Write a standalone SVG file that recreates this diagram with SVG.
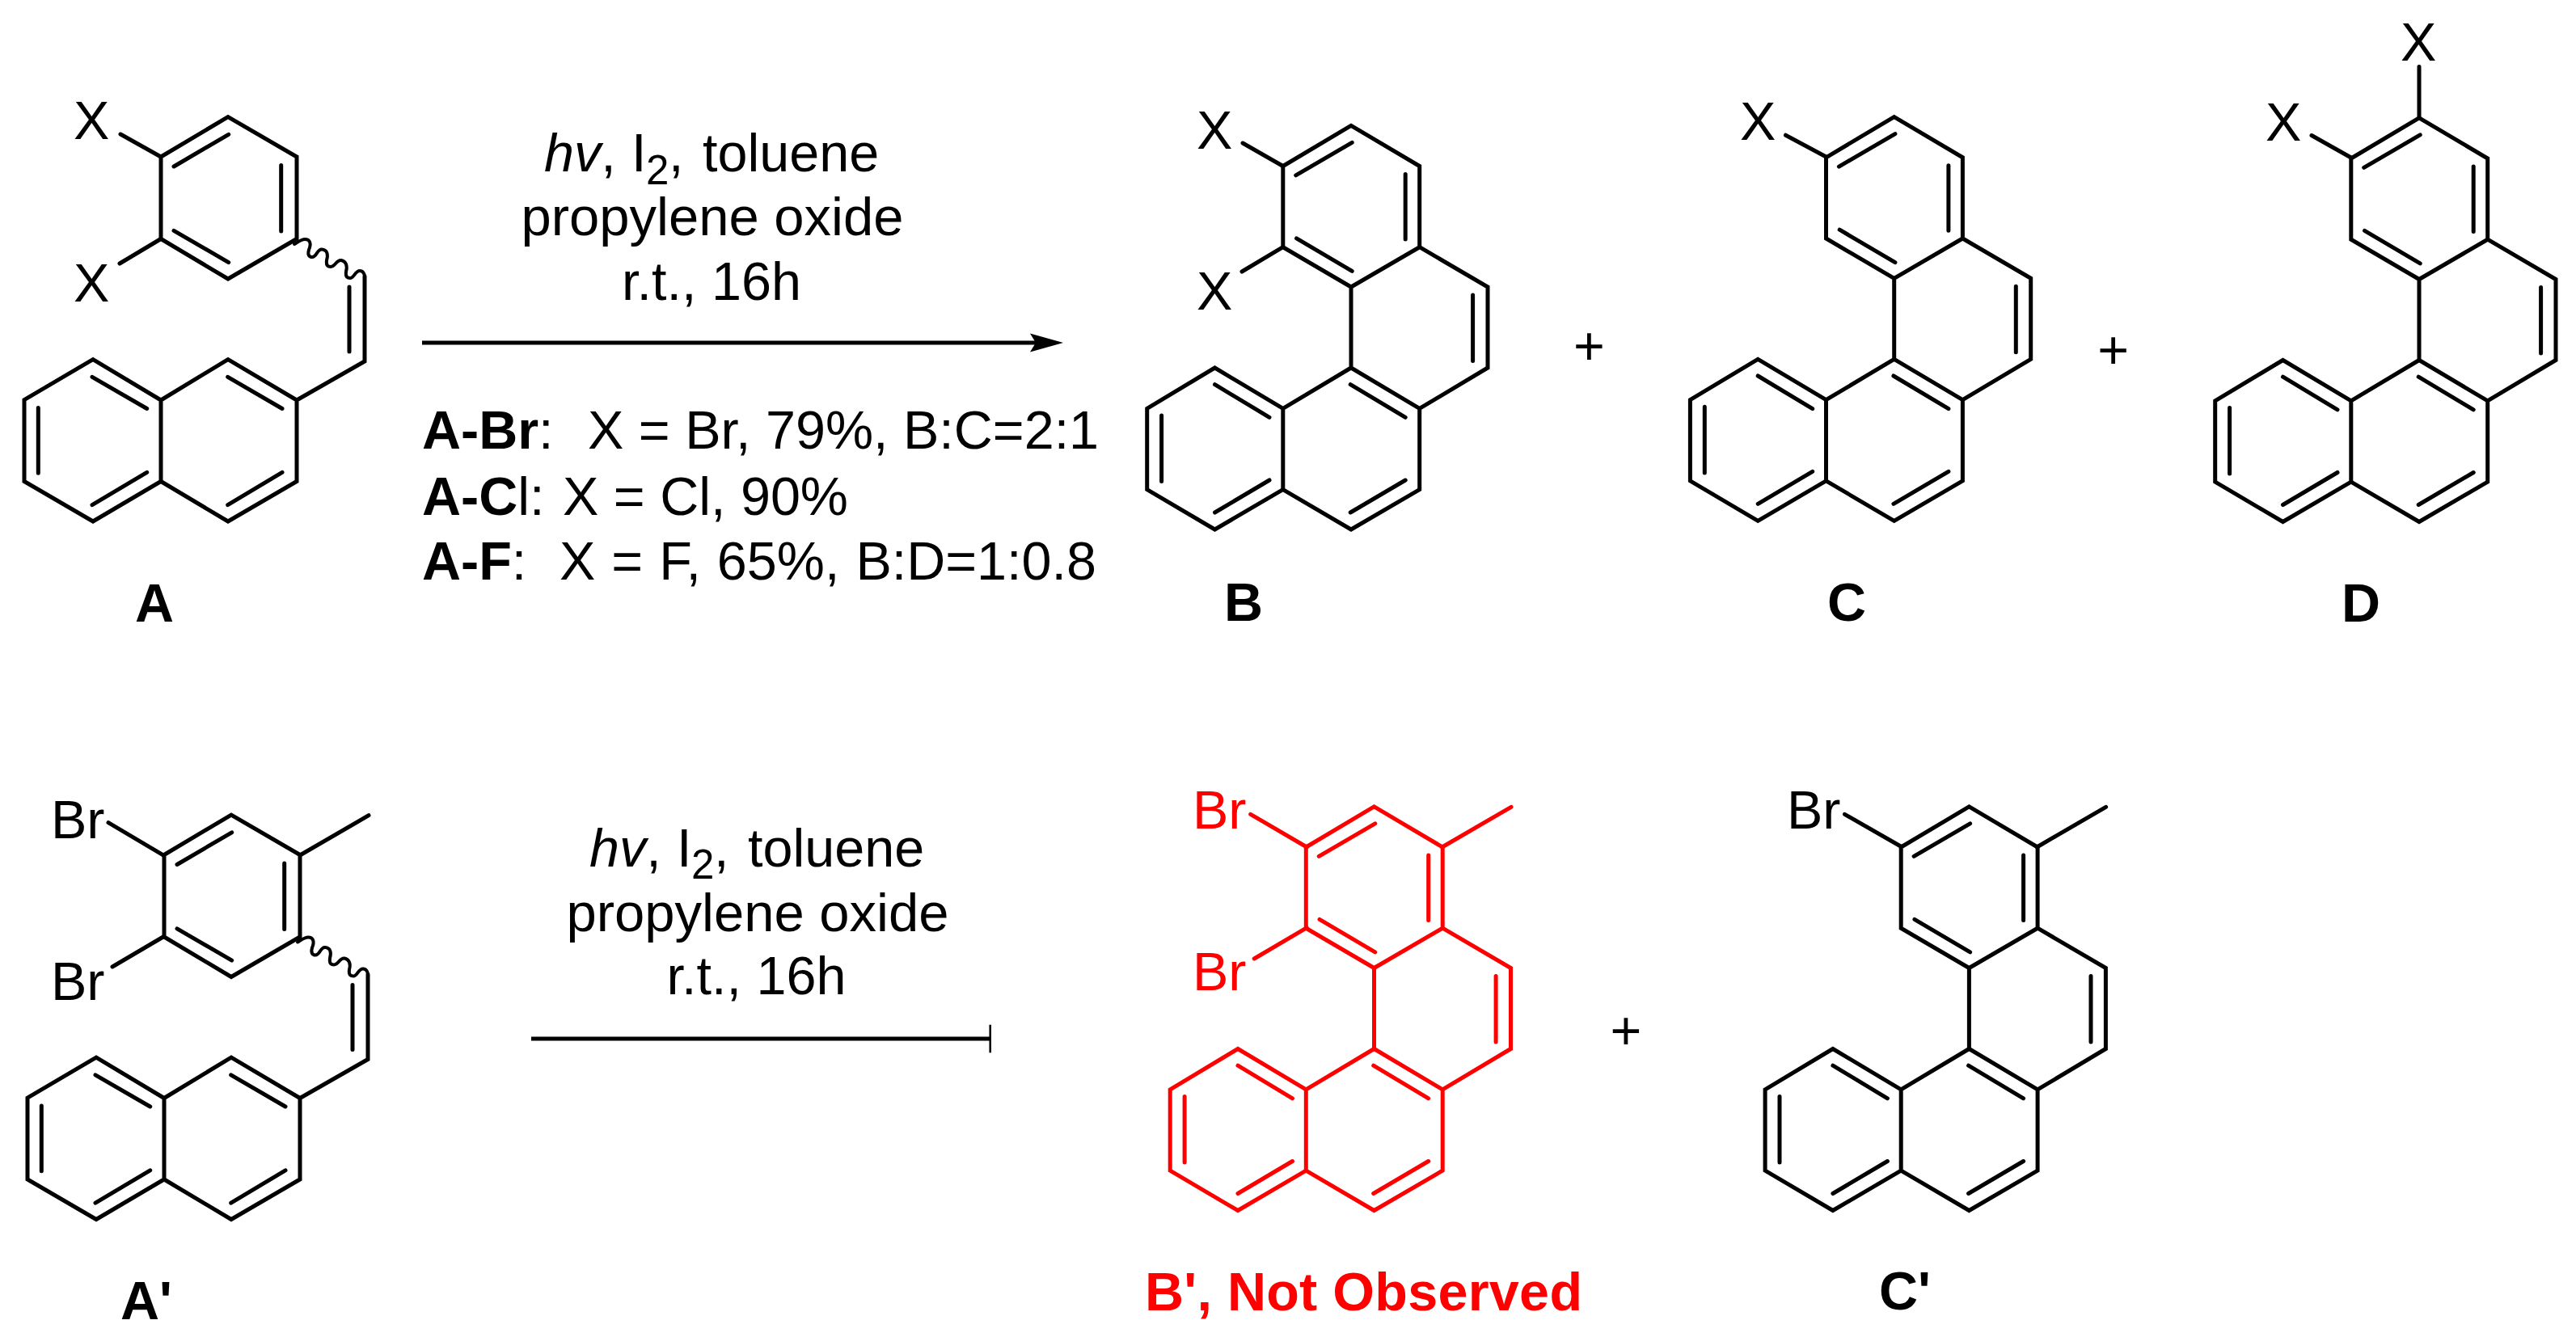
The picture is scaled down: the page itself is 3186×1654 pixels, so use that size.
<svg xmlns="http://www.w3.org/2000/svg" xmlns:xlink="http://www.w3.org/1999/xlink" width="3186" height="1654" viewBox="0 0 3186 1654">
<style>
text{font-family:"Liberation Sans",Arial,sans-serif;font-size:66.5px;fill:#000}
.b{font-weight:700}
.i{font-style:italic}
.sub{font-size:51px}
.wide{font-size:67px}
.red text{fill:#f00}
.bond{fill:none;stroke:#000;stroke-width:5;stroke-linecap:round;stroke-linejoin:miter;stroke-miterlimit:6}
.red .bond{stroke:#f00}
.wave{fill:none;stroke:#000;stroke-width:4;stroke-linecap:round}
.arrow{fill:none;stroke:#000;stroke-width:5}
.stop{fill:none;stroke:#000;stroke-width:2.5}
</style>
<defs>
<marker id="head" markerUnits="userSpaceOnUse" markerWidth="42" markerHeight="24" viewBox="0 0 42 24" refX="7" refY="12" orient="auto">
<polygon points="0,0.5 41,12 0,23.5 7,12" fill="#000"/>
</marker>
<path id="pentacycle" d="M1586.8 205.5L1671 155.4L1755.7 205.5V305.7L1671 355L1586.8 305.7ZM1755.7 305.7L1840 355V455L1755.7 505.4L1671 455V355M1671 455L1586.8 505.4L1502.5 455L1418.7 505.4V605.6L1502.5 655L1586.8 605.6V505.4M1586.8 605.6L1671 655L1755.7 605.6V505.4M1602.7 216.8L1672.2 176.3M1738.2 215.5V296M1603.5 294.9L1672.2 335.4M1821.6 365V446.5M1670.2 475.7L1738.2 516.3M1670.2 634L1738.2 594M1502.5 475.7L1570 516.3M1436.6 514V595.6M1502.5 634L1570 594"/>
<path id="styryl" d="M199 194L282 144.6L367 194V295.5L282 345L199 295.5ZM215 206L282.7 166.3M347.7 204.6V286M215 285.4L282.7 324.6M199 495L115 444.6L30 494.6V595.5L115 645L199 595.5ZM199 495L282 444.6L367 495V595.5L282 645L199 595.5M114 466.3L181.7 505.5M47.3 504.6V585.3M114 624.6L181.7 584.4M281.7 466.3L349 505.5M281.7 624.6L349 584.4M367 495L451 447V342M432 355V435"/>
<path id="wavy" d="M364 302C369 299 373 296 377 296C384 296 385 302 382 309C380 316 383 318 386 318C392 318 392 308 398 308.5C405 309 406 315 404 322C403 329 406 330 409 330C415 330 416 321 422 322C428 323 430 329 428 336C427 343 430 344 433 344C438 344 439 335 445 335C449 335 451 339 451 342"/>
</defs>

<g id="node-A">
<use xlink:href="#styryl" href="#styryl" class="bond"/>
<use xlink:href="#wavy" href="#wavy" class="wave"/>
<path class="bond" d="M149 166L199 194M148 326L199 295.5"/>
<text x="91" y="172">X</text>
<text x="91" y="373">X</text>
<text class="b" x="191" y="769" text-anchor="middle">A</text>
</g>

<g id="node-B">
<use xlink:href="#pentacycle" href="#pentacycle" class="bond"/>
<path class="bond" d="M1537 177L1586.8 205.5M1536 336L1586.8 305.7"/>
<text x="1480" y="184">X</text>
<text x="1480" y="382.5">X</text>
<text class="b" x="1538" y="768" text-anchor="middle">B</text>
</g>

<g id="node-C">
<use xlink:href="#pentacycle" href="#pentacycle" class="bond" transform="translate(671.7 -10.7)"/>
<path class="bond" d="M2208.5 167.2L2258.5 194"/>
<text x="2152" y="173">X</text>
<text class="b" x="2284" y="768" text-anchor="middle">C</text>
</g>

<g id="node-D">
<use xlink:href="#pentacycle" href="#pentacycle" class="bond" transform="translate(1321 -9.5)"/>
<path class="bond" d="M2992 82.5V146M2859 167.5L2907.8 195"/>
<text x="2969" y="75">X</text>
<text x="2802" y="174">X</text>
<text class="b" x="2920" y="769" text-anchor="middle">D</text>
</g>

<g id="plus-1"><text x="1965.5" y="451" text-anchor="middle">+</text></g>
<g id="plus-2"><text x="2613.6" y="455.5" text-anchor="middle">+</text></g>
<g id="plus-3"><text x="2011" y="1297.5" text-anchor="middle">+</text></g>

<g id="conditions-1">
<text y="212"><tspan class="i" x="673">hv</tspan><tspan>,</tspan><tspan x="781">I</tspan><tspan class="sub" x="799" dy="16">2</tspan><tspan x="827" dy="-16">,</tspan><tspan x="869">toluene</tspan></text>
<text class="wide" x="881" y="291" text-anchor="middle">propylene oxide</text>
<text x="880" y="371" text-anchor="middle">r.t., 16h</text>
<text y="555"><tspan class="b" x="522">A-Br</tspan><tspan>:</tspan><tspan x="727">X = Br, 79%, B:C=2:1</tspan></text>
<text y="637"><tspan class="b" x="522">A-C</tspan><tspan>l:</tspan><tspan x="696">X = Cl, 90%</tspan></text>
<text y="717"><tspan class="b" x="522">A-F</tspan><tspan>:</tspan><tspan x="692" word-spacing="1.5">X = F, 65%, B:D=1:0.8</tspan></text>
</g>

<g id="connectors">
<line class="arrow" x1="522" y1="424" x2="1281" y2="424" marker-end="url(#head)"/>
<line class="arrow" x1="657" y1="1285" x2="1224.7" y2="1285"/>
<line class="stop" x1="1224.7" y1="1267.7" x2="1224.7" y2="1302.3"/>
</g>

<g id="node-A-prime">
<use xlink:href="#styryl" href="#styryl" class="bond" transform="translate(4 863.5)"/>
<use xlink:href="#wavy" href="#wavy" class="wave" transform="translate(4 863.5)"/>
<path class="bond" d="M371 1058L456 1008.7M134 1017.7L202.7 1058.3M139 1196L202.7 1158.5"/>
<text x="63" y="1036.6">Br</text>
<text x="63" y="1236.6">Br</text>
<text class="b" x="149" y="1632">A'</text>
</g>

<g id="conditions-2">
<text y="1071.7"><tspan class="i" x="729">hv</tspan><tspan>,</tspan><tspan x="837">I</tspan><tspan class="sub" x="855" dy="15.5">2</tspan><tspan x="883" dy="-15.5">,</tspan><tspan x="925">toluene</tspan></text>
<text class="wide" x="937" y="1151.7" text-anchor="middle">propylene oxide</text>
<text x="935.5" y="1230" text-anchor="middle">r.t., 16h</text>
</g>

<g id="node-B-prime" class="red">
<use xlink:href="#pentacycle" href="#pentacycle" class="bond" transform="translate(28.5 842.5)"/>
<path class="bond" d="M1783.6 1048L1869 998.3M1546.7 1007.3L1616.3 1048M1551.2 1186L1616.3 1147.7"/>
<text x="1475" y="1025.4">Br</text>
<text x="1475" y="1225.3">Br</text>
<text class="b" x="1416" y="1621" textLength="541">B', Not Observed</text>
</g>

<g id="node-C-prime">
<use xlink:href="#pentacycle" href="#pentacycle" class="bond" transform="translate(764.4 842.5)"/>
<path class="bond" d="M2519.2 1048L2604.6 998.3M2281.5 1007.3L2350.8 1047"/>
<text x="2210" y="1025.4">Br</text>
<text class="b" x="2324" y="1620">C'</text>
</g>
</svg>
